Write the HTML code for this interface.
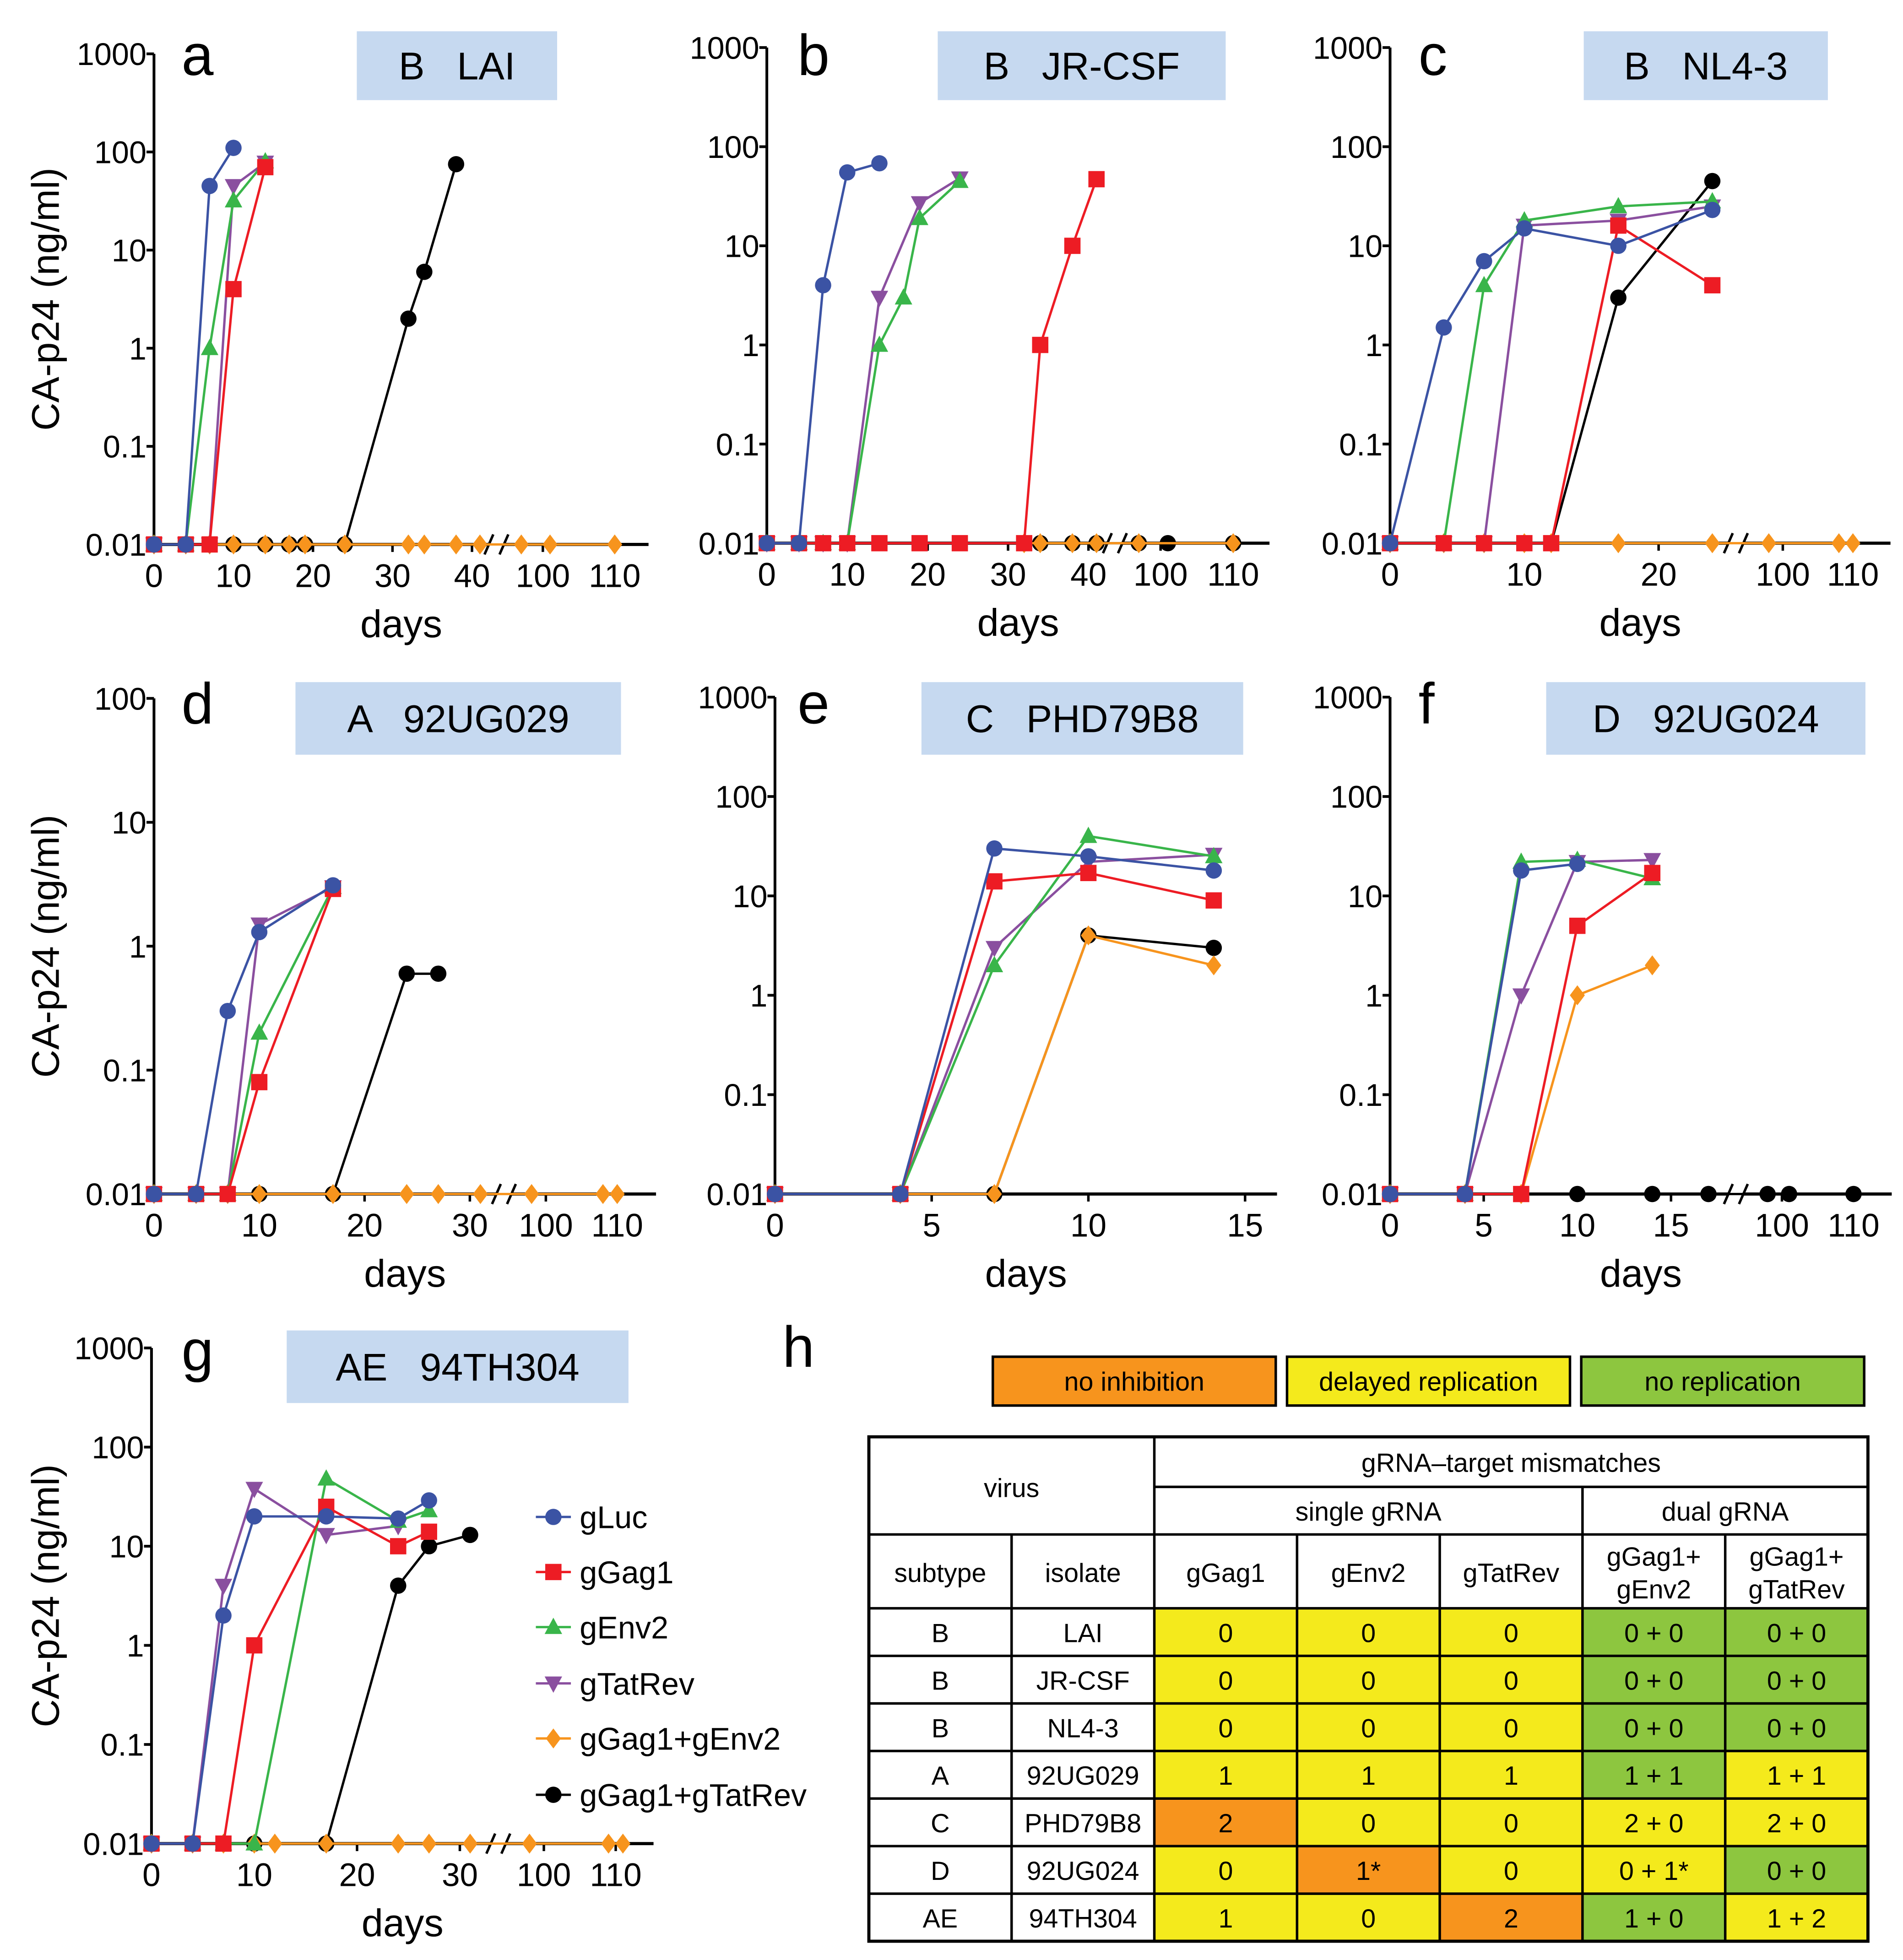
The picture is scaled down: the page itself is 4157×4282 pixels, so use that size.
<!DOCTYPE html>
<html><head><meta charset="utf-8"><style>
html,body{margin:0;padding:0;background:#fff}
svg{display:block}
text{font-family:"Liberation Sans",Arial,sans-serif}
.pre{white-space:pre}
</style></head><body>
<svg id="fig" xmlns="http://www.w3.org/2000/svg" width="4157" height="4282" viewBox="0 0 1520 1566" preserveAspectRatio="none">
<rect x="0" y="0" width="1520" height="1566" fill="#fff"/>
<g id="plots"></g>
<g id="tableh"></g>
</svg>
<script>
// ---- data (days / CA-p24 ng/ml; 0.01 = detection floor) ----
const seriesNames = ["gLuc","gGag1","gEnv2","gTatRev","gGag1+gEnv2","gGag1+gTatRev"];
const yTickLabels = ["1000","100","10","1","0.1","0.01"];
// panel a
const aLucD=[0,4,7,10], aLucV=[0.01,0.01,45,110];
const aGagD=[0,4,7,10,14], aGagV=[0.01,0.01,0.01,4,70];
const aEnvD=[0,4,7,10,14], aEnvV=[0.01,0.01,1,32,80];
const aTatD=[0,4,7,10,14], aTatV=[0.01,0.01,0.01,45,78];
const aGEnD=[0,4,7,10,14,17,19,24,32,34,38,41,97,101,110], aGEnV=[0.01,0.01,0.01,0.01,0.01,0.01,0.01,0.01,0.01,0.01,0.01,0.01,0.01,0.01,0.01];
const aGTaD=[0,4,7,10,14,17,19,24,32,34,38], aGTaV=[0.01,0.01,0.01,0.01,0.01,0.01,0.01,0.01,2,6,75];
// panel b
const bLucD=[0,4,7,10,14], bLucV=[0.01,0.01,4,55,68];
const bGagD=[0,4,7,10,14,19,24,32,34,38,41], bGagV=[0.01,0.01,0.01,0.01,0.01,0.01,0.01,0.01,1,10,47];
const bEnvD=[0,4,7,10,14,17,19,24], bEnvV=[0.01,0.01,0.01,0.01,1,3,19,45];
const bTatD=[0,4,7,10,14,19,24], bTatV=[0.01,0.01,0.01,0.01,3,27,48];
const bGEnD=[32,34,38,41,97,110], bGEnV=[0.01,0.01,0.01,0.01,0.01,0.01];
const bGTaD=[32,34,38,41,97,101,110], bGTaV=[0.01,0.01,0.01,0.01,0.01,0.01,0.01];
// panel c
const cLucD=[0,4,7,10,17,24], cLucV=[0.01,1.5,7,15,10,23];
const cGagD=[0,4,7,10,12,17,24], cGagV=[0.01,0.01,0.01,0.01,0.01,16,4];
const cEnvD=[0,4,7,10,17,24], cEnvV=[0.01,0.01,4,18,25,28];
const cTatD=[0,4,7,10,17,24], cTatV=[0.01,0.01,0.01,16,18,25];
const cGEnD=[0,4,7,10,12,17,24,98,108,110], cGEnV=[0.01,0.01,0.01,0.01,0.01,0.01,0.01,0.01,0.01,0.01];
const cGTaD=[0,4,7,10,12,17,24], cGTaV=[0.01,0.01,0.01,0.01,0.01,3,45];
// panel d
const dLucD=[0,4,7,10,17], dLucV=[0.01,0.01,0.3,1.3,3.1];
const dGagD=[0,4,7,10,17], dGagV=[0.01,0.01,0.01,0.08,2.9];
const dEnvD=[0,4,7,10,17], dEnvV=[0.01,0.01,0.01,0.2,3];
const dTatD=[0,4,7,10,17], dTatV=[0.01,0.01,0.01,1.5,3];
const dGEnD=[0,4,7,10,17,24,27,31,98,108,110], dGEnV=[0.01,0.01,0.01,0.01,0.01,0.01,0.01,0.01,0.01,0.01,0.01];
const dGTaD=[0,4,7,10,17,24,27], dGTaV=[0.01,0.01,0.01,0.01,0.01,0.6,0.6];
// panel e
const eLucD=[0,4,7,10,14], eLucV=[0.01,0.01,30,25,18];
const eGagD=[0,4,7,10,14], eGagV=[0.01,0.01,14,17,9];
const eEnvD=[0,4,7,10,14], eEnvV=[0.01,0.01,2,40,25];
const eTatD=[0,4,7,10,14], eTatV=[0.01,0.01,3,22,26];
const eGEnD=[0,4,7,10,14], eGEnV=[0.01,0.01,0.01,4,2];
const eGTaD=[0,4,7,10,14], eGTaV=[0.01,0.01,0.01,4,3];
// panel f
const fLucD=[0,4,7,10], fLucV=[0.01,0.01,18,21];
const fGagD=[0,4,7,10,14], fGagV=[0.01,0.01,0.01,5,17];
const fEnvD=[0,4,7,10,14], fEnvV=[0.01,0.01,22,23,15];
const fTatD=[0,4,7,10,14], fTatV=[0.01,0.01,1,22,23];
const fGEnD=[0,4,7,10,14], fGEnV=[0.01,0.01,0.01,1,2];
const fGTaD=[0,4,7,10,14,17,98,101,110], fGTaV=[0.01,0.01,0.01,0.01,0.01,0.01,0.01,0.01,0.01];
// panel g
const gLucD=[0,4,7,10,17,24,27], gLucV=[0.01,0.01,2,20,20,19,29];
const gGagD=[0,4,7,10,17,24,27], gGagV=[0.01,0.01,0.01,1,25,10,14];
const gEnvD=[0,4,7,10,17,24,27], gEnvV=[0.01,0.01,0.01,0.01,48,18,23];
const gTatD=[0,4,7,10,17,24], gTatV=[0.01,0.01,4,38,13,16];
const gGEnD=[0,4,7,10,12,17,24,27,31,98,109,111], gGEnV=[0.01,0.01,0.01,0.01,0.01,0.01,0.01,0.01,0.01,0.01,0.01,0.01];
const gGTaD=[0,4,7,10,17,24,27,31], gGTaV=[0.01,0.01,0.01,0.01,0.01,4,10,13];

const NS="http://www.w3.org/2000/svg";
const COL={gLuc:"#3b53a4",gGag1:"#ed1c24",gEnv2:"#39b54a",gTatRev:"#8a4f9f","gGag1+gEnv2":"#f7941d","gGag1+gTatRev":"#000"};
const SHP={gLuc:"circle",gGag1:"square",gEnv2:"tri",gTatRev:"tridown","gGag1+gEnv2":"diamond","gGag1+gTatRev":"circle"};
function mk(tag,attrs,parent){const e=document.createElementNS(NS,tag);for(const k in attrs)e.setAttribute(k,attrs[k]);if(parent)parent.appendChild(e);return e;}

const panels=[
 {id:"a",title:"B   LAI",tb:[285,25,160,55],letter:[145,60],ax:123,yTop:43,yBot:435,top:3,pre:[0,123,40,377],post:[100,433.6,110,491],brk:397,end:518,xt:[0,10,20,30,40,100,110],ytl:true,
  s:[[aGTaD,aGTaV],[aGEnD,aGEnV],[aTatD,aTatV],[aEnvD,aEnvV],[aGagD,aGagV],[aLucD,aLucV]]},
 {id:"b",title:"B   JR-CSF",tb:[749,25,230,55],letter:[637,60],ax:612.5,yTop:38,yBot:434,top:3,pre:[0,612.5,40,869.4],post:[100,927,110,985],brk:891,end:1014,xt:[0,10,20,30,40,100,110],ytl:false,
  s:[[bGTaD,bGTaV],[bGEnD,bGEnV],[bTatD,bTatV],[bEnvD,bEnvV],[bGagD,bGagV],[bLucD,bLucV]]},
 {id:"c",title:"B   NL4-3",tb:[1265,25,195,55],letter:[1133,60],ax:1110.3,yTop:38,yBot:434,top:3,pre:[0,1110.3,20,1324.8],post:[100,1424,110,1480],brk:1387,end:1510,xt:[0,10,20,100,110],ytl:false,
  s:[[cGTaD,cGTaV],[cGEnD,cGEnV],[cTatD,cTatV],[cEnvD,cEnvV],[cGagD,cGagV],[cLucD,cLucV]]},
 {id:"d",title:"A   92UG029",tb:[236,545,260,58],letter:[145,578],ax:123,yTop:558,yBot:954,top:2,pre:[0,123,30,375.3],post:[100,436,110,493],brk:403,end:524,xt:[0,10,20,30,100,110],ytl:true,
  s:[[dGTaD,dGTaV],[dGEnD,dGEnV],[dTatD,dTatV],[dEnvD,dEnvV],[dGagD,dGagV],[dLucD,dLucV]]},
 {id:"e",title:"C   PHD79B8",tb:[736,545,257,58],letter:[637,578],ax:619,yTop:557,yBot:954,top:3,pre:[0,619,15,994.5],post:null,brk:null,end:1020,xt:[0,5,10,15],ytl:false,
  s:[[eGTaD,eGTaV],[eGEnD,eGEnV],[eTatD,eTatV],[eEnvD,eEnvV],[eGagD,eGagV],[eLucD,eLucV]]},
 {id:"f",title:"D   92UG024",tb:[1235,545,255,58],letter:[1133,578],ax:1110.3,yTop:557,yBot:954,top:3,pre:[0,1110.3,15,1334.7],post:[100,1423.3,110,1480.5],brk:1387,end:1511,xt:[0,5,10,15,100,110],ytl:false,
  s:[[fGTaD,fGTaV],[fGEnD,fGEnV],[fTatD,fTatV],[fEnvD,fEnvV],[fGagD,fGagV],[fLucD,fLucV]]},
 {id:"g",title:"AE   94TH304",tb:[229,1063,273,58],letter:[145,1095],ax:121,yTop:1077,yBot:1473,top:3,pre:[0,121,30,367.3],post:[100,434.4,110,491.8],brk:398.5,end:522,xt:[0,10,20,30,100,110],ytl:true,
  s:[[gGTaD,gGTaV],[gGEnD,gGEnV],[gTatD,gTatV],[gEnvD,gEnvV],[gGagD,gGagV],[gLucD,gLucV]]}
];
const drawOrder=["gGag1+gTatRev","gGag1+gEnv2","gTatRev","gEnv2","gGag1","gLuc"];

function marker(g,shape,x,y,c){
  let e;
  if(shape==="circle") e=mk("circle",{cx:x,cy:y,r:6.5,fill:c},g);
  else if(shape==="square") e=mk("rect",{x:x-6.5,y:y-6.5,width:13,height:13,fill:c},g);
  else if(shape==="tri") e=mk("polygon",{points:`${x},${y-7.5} ${x+7},${y+5.5} ${x-7},${y+5.5}`,fill:c},g);
  else if(shape==="tridown") e=mk("polygon",{points:`${x},${y+7.5} ${x+7},${y-5.5} ${x-7},${y-5.5}`,fill:c},g);
  else e=mk("polygon",{points:`${x},${y-8} ${x+6},${y} ${x},${y+8} ${x-6},${y}`,fill:c},g);
  return e;
}

const root=document.getElementById("plots");
panels.forEach(p=>{
  const g=mk("g",{},root);
  
  
  const nDec=p.top+2;
  const yS=v=>p.yBot-(Math.log10(v)+2)/nDec*(p.yBot-p.yTop);
  const xS=d=>{ if(p.post && d>60){return p.post[1]+(d-p.post[0])*(p.post[3]-p.post[1])/(p.post[2]-p.post[0]);} return p.pre[1]+(d-p.pre[0])*(p.pre[3]-p.pre[1])/(p.pre[2]-p.pre[0]); };
  const tb=mk("rect",{x:p.tb[0],y:p.tb[1],width:p.tb[2],height:p.tb[3],fill:"#c6d9f0"},g);
  
  
  const tt=mk("text",{x:p.tb[0]+p.tb[2]/2,y:p.tb[1]+p.tb[3]/2+11,"font-size":31,"text-anchor":"middle","class":"pre"},g);
  tt.textContent=p.title;
  
  
  const lt=mk("text",{x:p.letter[0],y:p.letter[1],"font-size":46},g);
  lt.textContent=p.id;
  
  
  const ya=mk("line",{x1:p.ax,y1:p.yTop,x2:p.ax,y2:p.yBot,stroke:"#000","stroke-width":2.2},g);
  
  
  const labs=yTickLabels.slice(3-p.top);
  labs.forEach((l,i)=>{
    const v=Math.pow(10,p.top-i);const y=yS(v);
    mk("line",{x1:p.ax-6,y1:y,x2:p.ax,y2:y,stroke:"#000","stroke-width":2.2},g);
    const t=mk("text",{x:p.ax-6,y:y+9,"font-size":25,"text-anchor":"end"},g);
    t.textContent=l;
    
    
  });
  if(p.ytl){
    const ymid=(p.yTop+p.yBot)/2;
    const yt=mk("text",{x:0,y:0,"font-size":31,"text-anchor":"middle",transform:`translate(47,${ymid}) rotate(-90)`},g);
    yt.textContent="CA-p24 (ng/ml)";
    
    
  }
  const yb=p.yBot;
  if(p.brk){
    mk("line",{x1:p.ax,y1:yb,x2:p.brk-6,y2:yb,stroke:"#000","stroke-width":2.5},g);
    mk("line",{x1:p.brk+6,y1:yb,x2:p.end,y2:yb,stroke:"#000","stroke-width":2.5},g);
    mk("line",{x1:p.brk-10,y1:yb+8,x2:p.brk-3,y2:yb-8,stroke:"#000","stroke-width":2},g);
    mk("line",{x1:p.brk+2,y1:yb+8,x2:p.brk+9,y2:yb-8,stroke:"#000","stroke-width":2},g);
  } else {
    mk("line",{x1:p.ax,y1:yb,x2:p.end,y2:yb,stroke:"#000","stroke-width":2.5},g);
  }
  const xa=mk("g",{},g);
  
  
  p.xt.forEach(d=>{
    const x=xS(d);
    mk("line",{x1:x,y1:yb,x2:x,y2:yb+6,stroke:"#000","stroke-width":2},xa);
    const t=mk("text",{x:x,y:yb+34,"font-size":26,"text-anchor":"middle"},xa);
    t.textContent=String(d);
    
    
  });
  const xt=mk("text",{x:(p.ax+p.end)/2,y:yb+74,"font-size":31,"text-anchor":"middle"},g);
  xt.textContent="days";
  
  
  p.s.forEach((sv,i)=>{
    const name=drawOrder[i];const c=COL[name];
    const sg=mk("g",{},g);
    
    
    const pts=sv[0].map((d,k)=>xS(d).toFixed(1)+","+yS(sv[1][k]).toFixed(1)).join(" ");
    mk("polyline",{points:pts,fill:"none",stroke:c,"stroke-width":1.9},sg);
    sv[0].forEach((d,k)=>{
      const m=marker(sg,SHP[name],xS(d),yS(sv[1][k]),c);
      
      
    });
  });
});
const lg=mk("g",{},root);


const legY=[1212,1256,1300,1345,1389,1434];
seriesNames.forEach((n,i)=>{
  const eg=mk("g",{},lg);
  
  
  mk("line",{x1:428,y1:legY[i],x2:456,y2:legY[i],stroke:COL[n],"stroke-width":1.9},eg);
  marker(eg,SHP[n],442,legY[i],COL[n]);
  const t=mk("text",{x:463,y:legY[i]+9,"font-size":25},eg);
  t.textContent=n;
});
const th=document.getElementById("tableh");
const hl=mk("text",{x:625,y:1092,"font-size":46},th); hl.textContent="h";


const YEL="#f4ea1c",ORG="#f7941d",GRN="#8dc63f";
[["no inhibition",793,ORG],["delayed replication",1028,YEL],["no replication",1263,GRN]].forEach(a=>{
  const r=mk("rect",{x:a[1],y:1084,width:226,height:39,fill:a[2],stroke:"#000","stroke-width":2},th);
  
  
  const t=mk("text",{x:a[1]+113,y:1111,"font-size":21,"text-anchor":"middle"},th); t.textContent=a[0];
});
const cx=[694,808,922,1036,1150,1264,1378,1492];
const rowsY=[1285,1323,1361,1399,1437,1475,1513,1551];
const rows=[["B","LAI","0","0","0","0 + 0","0 + 0"],["B","JR-CSF","0","0","0","0 + 0","0 + 0"],["B","NL4-3","0","0","0","0 + 0","0 + 0"],["A","92UG029","1","1","1","1 + 1","1 + 1"],["C","PHD79B8","2","0","0","2 + 0","2 + 0"],["D","92UG024","0","1*","0","0 + 1*","0 + 0"],["AE","94TH304","1","0","2","1 + 0","1 + 2"]];
const cols=[[YEL,YEL,YEL,GRN,GRN],[YEL,YEL,YEL,GRN,GRN],[YEL,YEL,YEL,GRN,GRN],[YEL,YEL,YEL,GRN,YEL],[ORG,YEL,YEL,YEL,YEL],[YEL,ORG,YEL,YEL,GRN],[YEL,YEL,ORG,GRN,YEL]];
rows.forEach((r,i)=>{
  const rg=mk("g",{},th);
  
  
  r.forEach((v,j)=>{
    if(j>=2) mk("rect",{x:cx[j],y:rowsY[i],width:cx[j+1]-cx[j],height:rowsY[i+1]-rowsY[i],fill:cols[i][j-2]},rg);
    const t=mk("text",{x:(cx[j]+cx[j+1])/2,y:rowsY[i]+27,"font-size":21,"text-anchor":"middle"},rg); t.textContent=v;
  });
});
const L=(x1,y1,x2,y2,w)=>mk("line",{x1,y1,x2,y2,stroke:"#000","stroke-width":w||2},th);
mk("rect",{x:694,y:1148,width:798,height:403,fill:"none",stroke:"#000","stroke-width":2.5},th);
L(922,1188,1492,1188);L(922,1226,1492,1226);L(694,1226,922,1226);
rowsY.slice(0,7).forEach(y=>L(694,y,1492,y));
L(922,1148,922,1551);L(808,1226,808,1551);L(1036,1226,1036,1551);L(1150,1226,1150,1551);L(1264,1188,1264,1551);L(1378,1226,1378,1551);
const T=(x,y,s)=>{const t=mk("text",{x,y,"font-size":21,"text-anchor":"middle"},th);t.textContent=s;return t;};
T(808,1196,"virus");T(1207,1176,"gRNA\u2013target mismatches");T(1093,1215,"single gRNA");T(1378,1215,"dual gRNA");
T(751,1264,"subtype");T(865,1264,"isolate");T(979,1264,"gGag1");T(1093,1264,"gEnv2");T(1207,1264,"gTatRev");
T(1321,1251,"gGag1+");T(1321,1277,"gEnv2");T(1435,1251,"gGag1+");T(1435,1277,"gTatRev");
</script>
</body></html>
